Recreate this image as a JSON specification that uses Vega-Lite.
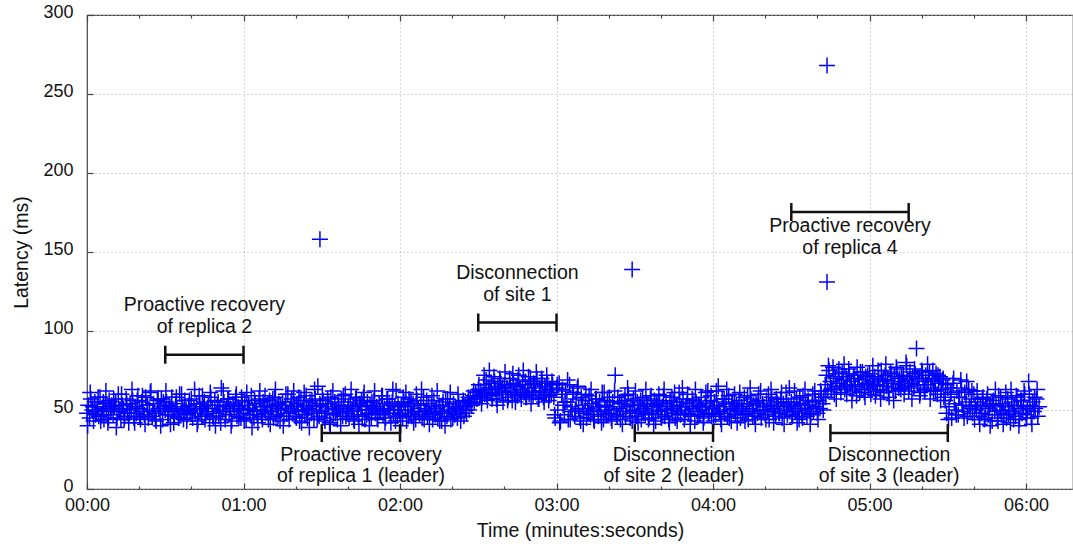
{
"$schema": "https://vega.github.io/schema/vega-lite/v6.json",
"width": 986, "height": 474,
"autosize": "none",
"padding": {"left": 87, "top": 15, "right": 0, "bottom": 55},
"background": "white",
"config": {"view": {"stroke": "#444", "strokeWidth": 1.2}, "font": "Liberation Sans"},
"datasets": {
"pts": [
{"t":0,"v":48},{"t":0.5,"v":53},{"t":1,"v":45},{"t":1.5,"v":57},{"t":2,"v":50},{"t":2.5,"v":43},{"t":3,"v":55},{"t":3.5,"v":49},{"t":4,"v":52},{"t":4.5,"v":46},{"t":5,"v":58},{"t":5.5,"v":47},{"t":6,"v":51},{"t":6.5,"v":44},{"t":7,"v":54},{"t":7.5,"v":50},{"t":8,"v":42},{"t":8.5,"v":56},{"t":9,"v":49},{"t":9.5,"v":53},
{"t":10,"v":47},{"t":10.5,"v":52},{"t":11,"v":55},{"t":11.5,"v":45},{"t":12,"v":60},{"t":12.5,"v":49},{"t":13,"v":44},{"t":13.5,"v":53},{"t":14,"v":51},{"t":14.5,"v":46},{"t":15,"v":57},{"t":15.5,"v":48},{"t":16,"v":42},{"t":16.5,"v":54},{"t":17,"v":50},{"t":17.5,"v":56},{"t":18,"v":45},{"t":18.5,"v":52},{"t":19,"v":48},{"t":19.5,"v":59},
{"t":20,"v":51},{"t":20.5,"v":44},{"t":21,"v":55},{"t":21.5,"v":49},{"t":22,"v":47},{"t":22.5,"v":58},{"t":23,"v":53},{"t":23.5,"v":45},{"t":24,"v":50},{"t":24.5,"v":62},{"t":25,"v":46},{"t":25.5,"v":54},{"t":26,"v":48},{"t":26.5,"v":43},{"t":27,"v":56},{"t":27.5,"v":51},{"t":28,"v":49},{"t":28.5,"v":57},{"t":29,"v":44},{"t":29.5,"v":52},
{"t":30,"v":50},{"t":30.5,"v":55},{"t":31,"v":47},{"t":31.5,"v":53},{"t":32,"v":41},{"t":32.5,"v":58},{"t":33,"v":49},{"t":33.5,"v":46},{"t":34,"v":54},{"t":34.5,"v":51},{"t":35,"v":45},{"t":35.5,"v":60},{"t":36,"v":48},{"t":36.5,"v":52},{"t":37,"v":44},{"t":37.5,"v":56},{"t":38,"v":50},{"t":38.5,"v":47},{"t":39,"v":53},{"t":39.5,"v":49},
{"t":40,"v":57},{"t":40.5,"v":45},{"t":41,"v":51},{"t":41.5,"v":48},{"t":42,"v":54},{"t":42.5,"v":43},{"t":43,"v":59},{"t":43.5,"v":50},{"t":44,"v":46},{"t":44.5,"v":52},{"t":45,"v":55},{"t":45.5,"v":47},{"t":46,"v":49},{"t":46.5,"v":53},{"t":47,"v":42},{"t":47.5,"v":58},{"t":48,"v":51},{"t":48.5,"v":45},{"t":49,"v":56},{"t":49.5,"v":48},
{"t":50,"v":53},{"t":50.5,"v":46},{"t":51,"v":50},{"t":51.5,"v":64},{"t":52,"v":49},{"t":52.5,"v":55},{"t":53,"v":44},{"t":53.5,"v":52},{"t":54,"v":57},{"t":54.5,"v":47},{"t":55,"v":51},{"t":55.5,"v":43},{"t":56,"v":54},{"t":56.5,"v":49},{"t":57,"v":58},{"t":57.5,"v":46},{"t":58,"v":52},{"t":58.5,"v":50},{"t":59,"v":45},{"t":59.5,"v":55},
{"t":60,"v":48},{"t":60.5,"v":56},{"t":61,"v":44},{"t":61.5,"v":51},{"t":62,"v":53},{"t":62.5,"v":47},{"t":63,"v":59},{"t":63.5,"v":50},{"t":64,"v":45},{"t":64.5,"v":54},{"t":65,"v":49},{"t":65.5,"v":42},{"t":66,"v":57},{"t":66.5,"v":52},{"t":67,"v":46},{"t":67.5,"v":55},{"t":68,"v":50},{"t":68.5,"v":48},{"t":69,"v":53},{"t":69.5,"v":44},
{"t":70,"v":56},{"t":70.5,"v":49},{"t":71,"v":52},{"t":71.5,"v":45},{"t":72,"v":58},{"t":72.5,"v":47},{"t":73,"v":51},{"t":73.5,"v":54},{"t":74,"v":43},{"t":74.5,"v":50},{"t":75,"v":55},{"t":75.5,"v":46},{"t":76,"v":53},{"t":76.5,"v":48},{"t":77,"v":60},{"t":77.5,"v":44},{"t":78,"v":51},{"t":78.5,"v":57},{"t":79,"v":49},{"t":79.5,"v":52},
{"t":80,"v":46},{"t":80.5,"v":54},{"t":81,"v":50},{"t":81.5,"v":43},{"t":82,"v":56},{"t":82.5,"v":49},{"t":83,"v":53},{"t":83.5,"v":47},{"t":84,"v":59},{"t":84.5,"v":45},{"t":85,"v":51},{"t":85.5,"v":55},{"t":86,"v":48},{"t":86.5,"v":52},{"t":87,"v":44},{"t":87.5,"v":57},{"t":88,"v":50},{"t":88.5,"v":65},{"t":89,"v":46},{"t":89.5,"v":53},
{"t":90,"v":49},{"t":90.5,"v":56},{"t":91,"v":45},{"t":91.5,"v":52},{"t":92,"v":48},{"t":92.5,"v":54},{"t":93,"v":42},{"t":93.5,"v":58},{"t":94,"v":51},{"t":94.5,"v":47},{"t":95,"v":55},{"t":95.5,"v":50},{"t":96,"v":44},{"t":96.5,"v":53},{"t":97,"v":49},{"t":97.5,"v":57},{"t":98,"v":46},{"t":98.5,"v":52},{"t":99,"v":60},{"t":99.5,"v":48},
{"t":100,"v":51},{"t":100.5,"v":45},{"t":101,"v":55},{"t":101.5,"v":49},{"t":102,"v":53},{"t":102.5,"v":43},{"t":103,"v":57},{"t":103.5,"v":50},{"t":104,"v":47},{"t":104.5,"v":54},{"t":105,"v":52},{"t":105.5,"v":46},{"t":106,"v":58},{"t":106.5,"v":44},{"t":107,"v":50},{"t":107.5,"v":55},{"t":108,"v":48},{"t":108.5,"v":53},{"t":109,"v":45},{"t":109.5,"v":51},
{"t":110,"v":56},{"t":110.5,"v":48},{"t":111,"v":52},{"t":111.5,"v":44},{"t":112,"v":54},{"t":112.5,"v":49},{"t":113,"v":59},{"t":113.5,"v":47},{"t":114,"v":51},{"t":114.5,"v":45},{"t":115,"v":57},{"t":115.5,"v":50},{"t":116,"v":53},{"t":116.5,"v":42},{"t":117,"v":55},{"t":117.5,"v":48},{"t":118,"v":52},{"t":118.5,"v":62},{"t":119,"v":46},{"t":119.5,"v":50},
{"t":120,"v":47},{"t":120.5,"v":53},{"t":121,"v":45},{"t":121.5,"v":55},{"t":122,"v":50},{"t":122.5,"v":43},{"t":123,"v":52},{"t":123.5,"v":57},{"t":124,"v":48},{"t":124.5,"v":46},{"t":125,"v":54},{"t":125.5,"v":49},{"t":126,"v":44},{"t":126.5,"v":56},{"t":127,"v":51},{"t":127.5,"v":47},{"t":128,"v":53},{"t":128.5,"v":45},{"t":129,"v":58},{"t":129.5,"v":49},
{"t":130,"v":50},{"t":130.5,"v":46},{"t":131,"v":54},{"t":131.5,"v":48},{"t":132,"v":52},{"t":132.5,"v":44},{"t":133,"v":56},{"t":133.5,"v":47},{"t":134,"v":51},{"t":134.5,"v":45},{"t":135,"v":53},{"t":135.5,"v":49},{"t":136,"v":43},{"t":136.5,"v":55},{"t":137,"v":48},{"t":137.5,"v":57},{"t":138,"v":46},{"t":138.5,"v":50},{"t":139,"v":52},{"t":139.5,"v":44},
{"t":140,"v":49},{"t":140.5,"v":54},{"t":141,"v":47},{"t":141.5,"v":51},{"t":142,"v":45},{"t":142.5,"v":55},{"t":143,"v":50},{"t":143.5,"v":48},{"t":144,"v":53},{"t":144.5,"v":46},
{"t":145,"v":52},{"t":145.5,"v":48},{"t":146,"v":55},{"t":146.5,"v":50},{"t":147,"v":57},{"t":147.5,"v":53},{"t":148,"v":59},{"t":148.5,"v":55},{"t":149,"v":61},{"t":149.5,"v":57},{"t":150,"v":63},{"t":150.5,"v":58},
{"t":151,"v":62},{"t":151.5,"v":58},{"t":152,"v":66},{"t":152.5,"v":60},{"t":153,"v":69},{"t":153.5,"v":56},{"t":154,"v":64},{"t":154.5,"v":61},{"t":155,"v":67},{"t":155.5,"v":59},{"t":156,"v":71},{"t":156.5,"v":63},{"t":157,"v":57},{"t":157.5,"v":65},{"t":158,"v":60},{"t":158.5,"v":68},{"t":159,"v":62},{"t":159.5,"v":55},{"t":160,"v":66},{"t":160.5,"v":61},
{"t":161,"v":64},{"t":161.5,"v":58},{"t":162,"v":70},{"t":162.5,"v":62},{"t":163,"v":56},{"t":163.5,"v":67},{"t":164,"v":60},{"t":164.5,"v":65},{"t":165,"v":59},{"t":165.5,"v":72},{"t":166,"v":63},{"t":166.5,"v":57},{"t":167,"v":66},{"t":167.5,"v":61},{"t":168,"v":68},{"t":168.5,"v":58},{"t":169,"v":64},{"t":169.5,"v":60},{"t":170,"v":69},{"t":170.5,"v":62},
{"t":171,"v":59},{"t":171.5,"v":66},{"t":172,"v":61},{"t":172.5,"v":70},{"t":173,"v":57},{"t":173.5,"v":64},{"t":174,"v":62},{"t":174.5,"v":68},{"t":175,"v":58},{"t":175.5,"v":65},{"t":176,"v":60},{"t":176.5,"v":67},{"t":177,"v":56},{"t":177.5,"v":63},{"t":178,"v":61},{"t":178.5,"v":66},
{"t":179,"v":58},{"t":179.5,"v":45},{"t":180,"v":64},{"t":180.5,"v":50},{"t":181,"v":67},{"t":181.5,"v":43},{"t":182,"v":60},{"t":182.5,"v":53},{"t":183,"v":47},{"t":183.5,"v":62},{"t":184,"v":55},{"t":184.5,"v":44},{"t":185,"v":66},{"t":185.5,"v":52},{"t":186,"v":49},{"t":186.5,"v":61},{"t":187,"v":46},{"t":187.5,"v":57},{"t":188,"v":64},{"t":188.5,"v":51},{"t":189,"v":45},{"t":189.5,"v":58},
{"t":190,"v":53},{"t":190.5,"v":48},{"t":191,"v":56},{"t":191.5,"v":45},{"t":192,"v":51},{"t":192.5,"v":59},{"t":193,"v":47},{"t":193.5,"v":54},{"t":194,"v":50},{"t":194.5,"v":43},{"t":195,"v":57},{"t":195.5,"v":52},{"t":196,"v":46},{"t":196.5,"v":55},{"t":197,"v":49},{"t":197.5,"v":61},{"t":198,"v":44},{"t":198.5,"v":53},{"t":199,"v":50},{"t":199.5,"v":56},
{"t":200,"v":48},{"t":200.5,"v":52},{"t":201,"v":45},{"t":201.5,"v":55},{"t":202,"v":50},{"t":202.5,"v":72},{"t":203,"v":47},{"t":203.5,"v":58},{"t":204,"v":51},{"t":204.5,"v":44},{"t":205,"v":54},{"t":205.5,"v":49},{"t":206,"v":56},{"t":206.5,"v":46},{"t":207,"v":52},{"t":207.5,"v":60},{"t":208,"v":48},{"t":208.5,"v":53},{"t":209,"v":43},{"t":209.5,"v":57},
{"t":210,"v":50},{"t":210.5,"v":46},{"t":211,"v":55},{"t":211.5,"v":49},{"t":212,"v":53},{"t":212.5,"v":44},{"t":213,"v":58},{"t":213.5,"v":51},{"t":214,"v":47},{"t":214.5,"v":54},{"t":215,"v":52},{"t":215.5,"v":45},{"t":216,"v":57},{"t":216.5,"v":48},{"t":217,"v":50},{"t":217.5,"v":56},{"t":218,"v":43},{"t":218.5,"v":53},{"t":219,"v":49},{"t":219.5,"v":55},
{"t":220,"v":47},{"t":220.5,"v":52},{"t":221,"v":59},{"t":221.5,"v":46},{"t":222,"v":54},{"t":222.5,"v":50},{"t":223,"v":44},{"t":223.5,"v":56},{"t":224,"v":51},{"t":224.5,"v":48},{"t":225,"v":55},{"t":225.5,"v":45},{"t":226,"v":53},{"t":226.5,"v":49},{"t":227,"v":61},{"t":227.5,"v":47},{"t":228,"v":52},{"t":228.5,"v":57},{"t":229,"v":44},{"t":229.5,"v":50},
{"t":230,"v":54},{"t":230.5,"v":48},{"t":231,"v":52},{"t":231.5,"v":46},{"t":232,"v":57},{"t":232.5,"v":51},{"t":233,"v":43},{"t":233.5,"v":55},{"t":234,"v":49},{"t":234.5,"v":53},{"t":235,"v":47},{"t":235.5,"v":58},{"t":236,"v":50},{"t":236.5,"v":45},{"t":237,"v":54},{"t":237.5,"v":52},{"t":238,"v":62},{"t":238.5,"v":48},{"t":239,"v":56},{"t":239.5,"v":46},
{"t":240,"v":51},{"t":240.5,"v":55},{"t":241,"v":47},{"t":241.5,"v":53},{"t":242,"v":65},{"t":242.5,"v":49},{"t":243,"v":44},{"t":243.5,"v":57},{"t":244,"v":52},{"t":244.5,"v":48},{"t":245,"v":54},{"t":245.5,"v":46},{"t":246,"v":59},{"t":246.5,"v":50},{"t":247,"v":43},{"t":247.5,"v":55},{"t":248,"v":51},{"t":248.5,"v":47},{"t":249,"v":53},{"t":249.5,"v":49},
{"t":250,"v":56},{"t":250.5,"v":45},{"t":251,"v":52},{"t":251.5,"v":50},{"t":252,"v":58},{"t":252.5,"v":47},{"t":253,"v":54},{"t":253.5,"v":44},{"t":254,"v":51},{"t":254.5,"v":57},{"t":255,"v":49},{"t":255.5,"v":53},{"t":256,"v":46},{"t":256.5,"v":55},{"t":257,"v":48},{"t":257.5,"v":60},{"t":258,"v":50},{"t":258.5,"v":45},{"t":259,"v":54},{"t":259.5,"v":52},
{"t":260,"v":47},{"t":260.5,"v":56},{"t":261,"v":50},{"t":261.5,"v":44},{"t":262,"v":53},{"t":262.5,"v":58},{"t":263,"v":49},{"t":263.5,"v":51},{"t":264,"v":46},{"t":264.5,"v":55},{"t":265,"v":52},{"t":265.5,"v":48},{"t":266,"v":57},{"t":266.5,"v":45},{"t":267,"v":54},{"t":267.5,"v":50},{"t":268,"v":61},{"t":268.5,"v":47},{"t":269,"v":53},{"t":269.5,"v":49},
{"t":270,"v":55},{"t":270.5,"v":46},{"t":271,"v":52},{"t":271.5,"v":49},{"t":272,"v":57},{"t":272.5,"v":51},{"t":273,"v":44},{"t":273.5,"v":54},{"t":274,"v":48},{"t":274.5,"v":59},{"t":275,"v":50},{"t":275.5,"v":53},{"t":276,"v":46},{"t":276.5,"v":56},{"t":277,"v":51},{"t":277.5,"v":47},{"t":278,"v":55},{"t":278.5,"v":49},{"t":279,"v":62},{"t":279.5,"v":52},
{"t":280,"v":48},{"t":280.5,"v":56},{"t":281,"v":51},{"t":281.5,"v":60},{"t":282,"v":54},{"t":282.5,"v":58},
{"t":283,"v":66},{"t":283.5,"v":72},{"t":284,"v":62},{"t":284.5,"v":75},{"t":285,"v":68},{"t":285.5,"v":64},{"t":286,"v":77},{"t":286.5,"v":60},{"t":287,"v":70},{"t":287.5,"v":65},{"t":288,"v":73},{"t":288.5,"v":67},{"t":289,"v":61},{"t":289.5,"v":74},{"t":290,"v":69},{"t":290.5,"v":63},{"t":291,"v":71},{"t":291.5,"v":66},{"t":292,"v":76},{"t":292.5,"v":64},
{"t":293,"v":68},{"t":293.5,"v":62},{"t":294,"v":72},{"t":294.5,"v":65},{"t":295,"v":59},{"t":295.5,"v":70},{"t":296,"v":66},{"t":296.5,"v":74},{"t":297,"v":63},{"t":297.5,"v":69},{"t":298,"v":61},{"t":298.5,"v":71},{"t":299,"v":67},{"t":299.5,"v":64},{"t":300,"v":73},{"t":300.5,"v":60},{"t":301,"v":68},{"t":301.5,"v":65},{"t":302,"v":71},{"t":302.5,"v":62},
{"t":303,"v":66},{"t":303.5,"v":70},{"t":304,"v":63},{"t":304.5,"v":75},{"t":305,"v":68},{"t":305.5,"v":61},{"t":306,"v":72},{"t":306.5,"v":65},{"t":307,"v":69},{"t":307.5,"v":58},{"t":308,"v":74},{"t":308.5,"v":67},{"t":309,"v":64},{"t":309.5,"v":71},{"t":310,"v":62},{"t":310.5,"v":76},{"t":311,"v":66},{"t":311.5,"v":70},{"t":312,"v":63},{"t":312.5,"v":68},
{"t":313,"v":72},{"t":313.5,"v":65},{"t":314,"v":80},{"t":314.5,"v":69},{"t":315,"v":62},{"t":315.5,"v":74},{"t":316,"v":67},{"t":316.5,"v":71},{"t":317,"v":64},{"t":317.5,"v":73},{"t":318,"v":89},{"t":318.5,"v":66},{"t":319,"v":70},{"t":319.5,"v":61},{"t":320,"v":75},{"t":320.5,"v":68},{"t":321,"v":63},{"t":321.5,"v":72},{"t":322,"v":66},{"t":322.5,"v":69},
{"t":323,"v":74},{"t":323.5,"v":64},{"t":324,"v":70},{"t":324.5,"v":62},{"t":325,"v":68},{"t":325.5,"v":73},{"t":326,"v":60},{"t":326.5,"v":67},{"t":327,"v":71},{"t":327.5,"v":63},{"t":328,"v":69},{"t":328.5,"v":58},
{"t":329,"v":56},{"t":329.5,"v":48},{"t":330,"v":64},{"t":330.5,"v":52},{"t":331,"v":60},{"t":331.5,"v":45},{"t":332,"v":67},{"t":332.5,"v":54},{"t":333,"v":50},{"t":333.5,"v":62},{"t":334,"v":47},{"t":334.5,"v":58},{"t":335,"v":69},{"t":335.5,"v":53},{"t":336,"v":49},{"t":336.5,"v":61},{"t":337,"v":55},{"t":337.5,"v":46},{"t":338,"v":63},{"t":338.5,"v":51},{"t":339,"v":57},{"t":339.5,"v":48},{"t":340,"v":60},{"t":340.5,"v":53},
{"t":341,"v":50},{"t":341.5,"v":55},{"t":342,"v":46},{"t":342.5,"v":53},{"t":343,"v":48},{"t":343.5,"v":58},{"t":344,"v":44},{"t":344.5,"v":52},{"t":345,"v":57},{"t":345.5,"v":47},{"t":346,"v":51},{"t":346.5,"v":54},{"t":347,"v":43},{"t":347.5,"v":56},{"t":348,"v":49},{"t":348.5,"v":53},{"t":349,"v":45},{"t":349.5,"v":59},{"t":350,"v":50},{"t":350.5,"v":47},
{"t":351,"v":54},{"t":351.5,"v":48},{"t":352,"v":52},{"t":352.5,"v":45},{"t":353,"v":57},{"t":353.5,"v":50},{"t":354,"v":42},{"t":354.5,"v":55},{"t":355,"v":49},{"t":355.5,"v":53},{"t":356,"v":46},{"t":356.5,"v":58},{"t":357,"v":51},{"t":357.5,"v":44},{"t":358,"v":56},{"t":358.5,"v":48},{"t":359,"v":52},{"t":359.5,"v":60},{"t":360,"v":47},{"t":360.5,"v":50},
{"t":361,"v":68},{"t":361.5,"v":53},{"t":362,"v":45},{"t":362.5,"v":55},{"t":363,"v":49},{"t":363.5,"v":51},{"t":364,"v":57},{"t":364.5,"v":46},{"t":365,"v":52},
{"t":0.25,"v":40},{"t":1.25,"v":61},{"t":2.25,"v":52},{"t":3.25,"v":47},{"t":4.25,"v":58},{"t":5.25,"v":43},{"t":6.25,"v":55},{"t":7.25,"v":62},{"t":8.25,"v":45},{"t":9.25,"v":51},
{"t":10.25,"v":57},{"t":11.25,"v":39},{"t":12.25,"v":50},{"t":13.25,"v":60},{"t":14.25,"v":44},{"t":15.25,"v":54},{"t":16.25,"v":48},{"t":17.25,"v":63},{"t":18.25,"v":42},{"t":19.25,"v":56},
{"t":20.25,"v":46},{"t":21.25,"v":59},{"t":22.25,"v":41},{"t":23.25,"v":53},{"t":24.25,"v":61},{"t":25.25,"v":49},{"t":26.25,"v":44},{"t":27.25,"v":57},{"t":28.25,"v":40},{"t":29.25,"v":55},
{"t":30.25,"v":62},{"t":31.25,"v":47},{"t":32.25,"v":52},{"t":33.25,"v":42},{"t":34.25,"v":58},{"t":35.25,"v":45},{"t":36.25,"v":60},{"t":37.25,"v":50},{"t":38.25,"v":43},{"t":39.25,"v":56},
{"t":40.25,"v":48},{"t":41.25,"v":63},{"t":42.25,"v":41},{"t":43.25,"v":54},{"t":44.25,"v":59},{"t":45.25,"v":44},{"t":46.25,"v":51},{"t":47.25,"v":61},{"t":48.25,"v":46},{"t":49.25,"v":40},
{"t":50.25,"v":55},{"t":51.25,"v":42},{"t":52.25,"v":62},{"t":53.25,"v":49},{"t":54.25,"v":57},{"t":55.25,"v":40},{"t":56.25,"v":53},{"t":57.25,"v":60},{"t":58.25,"v":45},{"t":59.25,"v":58},
{"t":60.25,"v":43},{"t":61.25,"v":61},{"t":62.25,"v":50},{"t":63.25,"v":39},{"t":64.25,"v":56},{"t":65.25,"v":47},{"t":66.25,"v":62},{"t":67.25,"v":44},{"t":68.25,"v":59},{"t":69.25,"v":52},
{"t":70.25,"v":41},{"t":71.25,"v":57},{"t":72.25,"v":63},{"t":73.25,"v":46},{"t":74.25,"v":53},{"t":75.25,"v":40},{"t":76.25,"v":60},{"t":77.25,"v":48},{"t":78.25,"v":55},{"t":79.25,"v":62},
{"t":80.25,"v":45},{"t":81.25,"v":58},{"t":82.25,"v":42},{"t":83.25,"v":61},{"t":84.25,"v":50},{"t":85.25,"v":39},{"t":86.25,"v":56},{"t":87.25,"v":63},{"t":88.25,"v":44},{"t":89.25,"v":54},
{"t":90.25,"v":60},{"t":91.25,"v":43},{"t":92.25,"v":57},{"t":93.25,"v":41},{"t":94.25,"v":62},{"t":95.25,"v":48},{"t":96.25,"v":53},{"t":97.25,"v":40},{"t":98.25,"v":59},{"t":99.25,"v":46},
{"t":100.25,"v":52},{"t":101.25,"v":63},{"t":102.25,"v":44},{"t":103.25,"v":58},{"t":104.25,"v":41},{"t":105.25,"v":56},{"t":106.25,"v":61},{"t":107.25,"v":47},{"t":108.25,"v":40},{"t":109.25,"v":55},
{"t":110.25,"v":62},{"t":111.25,"v":45},{"t":112.25,"v":50},{"t":113.25,"v":59},{"t":114.25,"v":42},{"t":115.25,"v":57},{"t":116.25,"v":48},{"t":117.25,"v":63},{"t":118.25,"v":43},{"t":119.25,"v":54},
{"t":120.25,"v":40},{"t":121.25,"v":58},{"t":122.25,"v":61},{"t":123.25,"v":46},{"t":124.25,"v":55},{"t":125.25,"v":42},{"t":126.25,"v":60},{"t":127.25,"v":49},{"t":128.25,"v":63},{"t":129.25,"v":44},
{"t":130.25,"v":56},{"t":131.25,"v":41},{"t":132.25,"v":59},{"t":133.25,"v":48},{"t":134.25,"v":62},{"t":135.25,"v":43},{"t":136.25,"v":53},{"t":137.25,"v":40},{"t":138.25,"v":57},{"t":139.25,"v":61},
{"t":140.25,"v":45},{"t":141.25,"v":52},{"t":142.25,"v":60},{"t":143.25,"v":43},{"t":144.25,"v":56},
{"t":145.25,"v":50},{"t":146.25,"v":58},{"t":147.25,"v":54},{"t":148.25,"v":62},{"t":149.25,"v":59},{"t":150.25,"v":66},
{"t":151.25,"v":54},{"t":152.25,"v":72},{"t":153.25,"v":60},{"t":154.25,"v":75},{"t":155.25,"v":57},{"t":156.25,"v":68},{"t":157.25,"v":53},{"t":158.25,"v":70},{"t":159.25,"v":64},{"t":160.25,"v":74},
{"t":161.25,"v":56},{"t":162.25,"v":66},{"t":163.25,"v":73},{"t":164.25,"v":55},{"t":165.25,"v":69},{"t":166.25,"v":61},{"t":167.25,"v":75},{"t":168.25,"v":58},{"t":169.25,"v":71},{"t":170.25,"v":54},
{"t":171.25,"v":67},{"t":172.25,"v":74},{"t":173.25,"v":57},{"t":174.25,"v":70},{"t":175.25,"v":55},{"t":176.25,"v":72},{"t":177.25,"v":59},{"t":178.25,"v":68},
{"t":179.25,"v":47},{"t":180.25,"v":66},{"t":181.25,"v":42},{"t":182.25,"v":63},{"t":183.25,"v":55},{"t":184.25,"v":69},{"t":185.25,"v":44},{"t":186.25,"v":60},{"t":187.25,"v":50},{"t":188.25,"v":65},{"t":189.25,"v":43},
{"t":190.25,"v":41},{"t":191.25,"v":60},{"t":192.25,"v":49},{"t":193.25,"v":63},{"t":194.25,"v":44},{"t":195.25,"v":57},{"t":196.25,"v":52},{"t":197.25,"v":42},{"t":198.25,"v":61},{"t":199.25,"v":47},
{"t":200.25,"v":58},{"t":201.25,"v":43},{"t":202.25,"v":62},{"t":203.25,"v":46},{"t":204.25,"v":55},{"t":205.25,"v":41},{"t":206.25,"v":59},{"t":207.25,"v":64},{"t":208.25,"v":45},{"t":209.25,"v":53},
{"t":210.25,"v":62},{"t":211.25,"v":42},{"t":212.25,"v":56},{"t":213.25,"v":48},{"t":214.25,"v":63},{"t":215.25,"v":44},{"t":216.25,"v":59},{"t":217.25,"v":41},{"t":218.25,"v":54},{"t":219.25,"v":60},
{"t":220.25,"v":45},{"t":221.25,"v":63},{"t":222.25,"v":50},{"t":223.25,"v":42},{"t":224.25,"v":58},{"t":225.25,"v":61},{"t":226.25,"v":43},{"t":227.25,"v":55},{"t":228.25,"v":64},{"t":229.25,"v":47},
{"t":230.25,"v":60},{"t":231.25,"v":41},{"t":232.25,"v":56},{"t":233.25,"v":63},{"t":234.25,"v":46},{"t":235.25,"v":52},{"t":236.25,"v":42},{"t":237.25,"v":61},{"t":238.25,"v":48},{"t":239.25,"v":59},
{"t":240.25,"v":43},{"t":241.25,"v":62},{"t":242.25,"v":50},{"t":243.25,"v":41},{"t":244.25,"v":57},{"t":245.25,"v":63},{"t":246.25,"v":45},{"t":247.25,"v":54},{"t":248.25,"v":60},{"t":249.25,"v":42},
{"t":250.25,"v":61},{"t":251.25,"v":48},{"t":252.25,"v":43},{"t":253.25,"v":59},{"t":254.25,"v":64},{"t":255.25,"v":46},{"t":256.25,"v":41},{"t":257.25,"v":56},{"t":258.25,"v":62},{"t":259.25,"v":50},
{"t":260.25,"v":44},{"t":261.25,"v":60},{"t":262.25,"v":63},{"t":263.25,"v":42},{"t":264.25,"v":57},{"t":265.25,"v":48},{"t":266.25,"v":61},{"t":267.25,"v":41},{"t":268.25,"v":55},{"t":269.25,"v":64},
{"t":270.25,"v":47},{"t":271.25,"v":62},{"t":272.25,"v":42},{"t":273.25,"v":58},{"t":274.25,"v":45},{"t":275.25,"v":63},{"t":276.25,"v":53},{"t":277.25,"v":41},{"t":278.25,"v":60},{"t":279.25,"v":56},
{"t":280.25,"v":44},{"t":281.25,"v":62},{"t":282.25,"v":50},
{"t":283.25,"v":58},{"t":284.25,"v":78},{"t":285.25,"v":63},{"t":286.25,"v":71},{"t":287.25,"v":57},{"t":288.25,"v":76},{"t":289.25,"v":65},{"t":290.25,"v":79},{"t":291.25,"v":60},{"t":292.25,"v":73},
{"t":293.25,"v":56},{"t":294.25,"v":70},{"t":295.25,"v":77},{"t":296.25,"v":61},{"t":297.25,"v":74},{"t":298.25,"v":58},{"t":299.25,"v":72},{"t":300.25,"v":66},{"t":301.25,"v":78},{"t":302.25,"v":59},
{"t":303.25,"v":75},{"t":304.25,"v":57},{"t":305.25,"v":69},{"t":306.25,"v":79},{"t":307.25,"v":62},{"t":308.25,"v":73},{"t":309.25,"v":56},{"t":310.25,"v":77},{"t":311.25,"v":64},{"t":312.25,"v":71},
{"t":313.25,"v":60},{"t":314.25,"v":78},{"t":315.25,"v":65},{"t":316.25,"v":57},{"t":317.25,"v":76},{"t":318.25,"v":70},{"t":319.25,"v":59},{"t":320.25,"v":74},{"t":321.25,"v":62},{"t":322.25,"v":79},
{"t":323.25,"v":57},{"t":324.25,"v":75},{"t":325.25,"v":62},{"t":326.25,"v":72},{"t":327.25,"v":56},{"t":328.25,"v":70},
{"t":329.25,"v":66},{"t":330.25,"v":44},{"t":331.25,"v":61},{"t":332.25,"v":70},{"t":333.25,"v":47},{"t":334.25,"v":58},{"t":335.25,"v":64},{"t":336.25,"v":45},{"t":337.25,"v":68},{"t":338.25,"v":52},{"t":339.25,"v":62},{"t":340.25,"v":44},
{"t":341.25,"v":62},{"t":342.25,"v":41},{"t":343.25,"v":57},{"t":344.25,"v":45},{"t":345.25,"v":60},{"t":346.25,"v":40},{"t":347.25,"v":54},{"t":348.25,"v":63},{"t":349.25,"v":43},{"t":350.25,"v":58},
{"t":351.25,"v":41},{"t":352.25,"v":61},{"t":353.25,"v":47},{"t":354.25,"v":63},{"t":355.25,"v":44},{"t":356.25,"v":59},{"t":357.25,"v":40},{"t":358.25,"v":56},{"t":359.25,"v":62},{"t":360.25,"v":45},
{"t":361.25,"v":60},{"t":362.25,"v":41},{"t":363.25,"v":58},{"t":364.25,"v":63},
{"t":89.3,"v":158},{"t":209,"v":139},{"t":283.7,"v":268},{"t":283.7,"v":131}
],
"br": [
{"t1":30,"t2":60,"v":85},{"t1":150,"t2":180,"v":105.4},{"t1":270,"t2":315,"v":175.3},
{"t1":90,"t2":120,"v":35.4},{"t1":210,"t2":240,"v":35.4},{"t1":285,"t2":330,"v":35.4}
],
"notes": [
{"t":45,"v":116.7,"label":"Proactive recovery"},{"t":45,"v":102.7,"label":"of replica 2"},
{"t":165,"v":137,"label":"Disconnection"},{"t":165,"v":123,"label":"of site 1"},
{"t":292.5,"v":166.2,"label":"Proactive recovery"},{"t":292.5,"v":152.5,"label":"of replica 4"},
{"t":105,"v":21.7,"label":"Proactive recovery"},{"t":105,"v":8,"label":"of replica 1 (leader)"},
{"t":225,"v":21.7,"label":"Disconnection"},{"t":225,"v":8,"label":"of site 2 (leader)"},
{"t":307.5,"v":21.7,"label":"Disconnection"},{"t":307.5,"v":8,"label":"of site 3 (leader)"}
]
},
"layer": [
{
"data": {"name": "pts"},
"mark": {"type": "point", "shape": "M-1,0H1M0,-1V1", "size": 256, "filled": false, "stroke": "#0000ff", "strokeWidth": 1.5, "opacity": 1},
"encoding": {
"x": {"field": "t", "type": "quantitative", "scale": {"domain": [0, 378], "nice": false, "zero": false},
"axis": {"orient": "bottom", "values": [0,20,40,60,80,100,120,140,160,180,200,220,240,260,280,300,320,340,360],
"labelExpr": "datum.value % 60 === 0 ? '0' + (datum.value / 60) + ':00' : ''",
"labelOverlap": false, "labelFlush": false,
"tickSize": {"condition": {"test": "datum.value % 60 === 0", "value": -6}, "value": -3},
"tickColor": "#444", "tickWidth": 1.2,
"grid": true, "gridOpacity": {"condition": {"test": "datum.value % 60 === 0 && datum.value > 0", "value": 1}, "value": 0},
"gridDash": [1, 3], "gridColor": "#aaa", "domain": false,
"labelFont": "Liberation Sans", "labelFontSize": 18, "labelColor": "#111", "labelPadding": 13,
"title": "Time (minutes:seconds)", "titleFont": "Liberation Sans", "titleFontSize": 19.5, "titleFontWeight": "normal", "titleColor": "#111", "titlePadding": 4}},
"y": {"field": "v", "type": "quantitative", "scale": {"domain": [0, 300], "nice": false},
"axis": {"values": [0,50,100,150,200,250,300], "tickSize": -6, "tickColor": "#444", "tickWidth": 1.2,
"grid": true, "gridDash": [1, 3], "gridColor": "#aaa", "domain": false, "labelFlush": false, "labelOffset": -3,
"labelFont": "Liberation Sans", "labelFontSize": 18, "labelColor": "#111", "labelPadding": 20,
"title": "Latency (ms)", "titleFont": "Liberation Sans", "titleFontSize": 19.5, "titleFontWeight": "normal", "titleColor": "#111", "titlePadding": 11}}
}
},
{
"data": {"name": "br"},
"mark": {"type": "rule", "stroke": "#111", "strokeWidth": 2.5},
"encoding": {
"x": {"field": "t1", "type": "quantitative",
"axis": {"orient": "top", "values": [0,20,40,60,80,100,120,140,160,180,200,220,240,260,280,300,320,340,360],
"labels": false, "title": null, "grid": false, "domain": false,
"tickSize": {"condition": {"test": "datum.value % 60 === 0", "value": -6}, "value": -3},
"tickColor": "#444", "tickWidth": 1.2}},
"x2": {"field": "t2"},
"y": {"field": "v", "type": "quantitative"}
}
},
{
"data": {"name": "br"},
"mark": {"type": "tick", "orient": "vertical", "size": 18, "thickness": 2.5, "color": "#111", "opacity": 1},
"encoding": {
"x": {"field": "t1", "type": "quantitative", "axis": null},
"y": {"field": "v", "type": "quantitative"}
}
},
{
"data": {"name": "br"},
"mark": {"type": "tick", "orient": "vertical", "size": 18, "thickness": 2.5, "color": "#111", "opacity": 1},
"encoding": {
"x": {"field": "t2", "type": "quantitative", "axis": null},
"y": {"field": "v", "type": "quantitative"}
}
},
{
"data": {"name": "notes"},
"mark": {"type": "text", "font": "Liberation Sans", "fontSize": 19.5, "color": "#111", "align": "center", "baseline": "middle"},
"encoding": {
"x": {"field": "t", "type": "quantitative", "axis": null},
"y": {"field": "v", "type": "quantitative"},
"text": {"field": "label"}
}
}
],
"resolve": {"axis": {"x": "independent"}}
}
